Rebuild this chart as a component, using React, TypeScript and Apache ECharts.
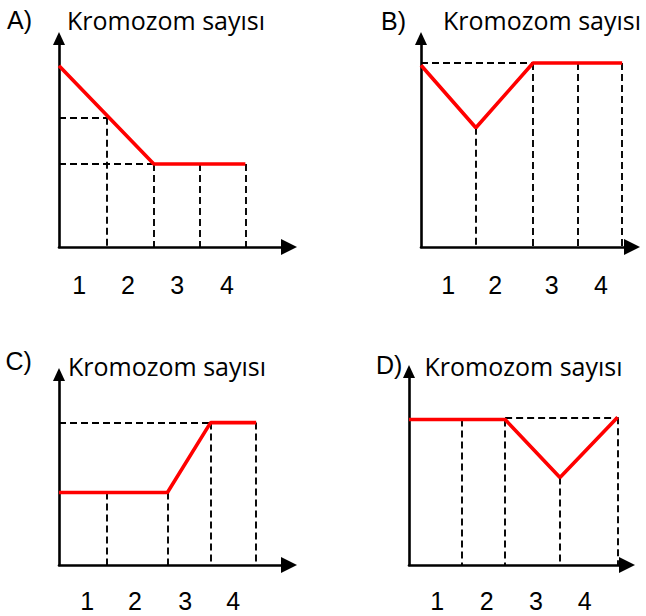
import React, { useEffect, useRef } from "react";
import * as echarts from "echarts";

// ---- data (x in stage units, y in relative chromosome count) ----
const stageLabels = ["1", "2", "3", "4"];
const yAxisName = "Kromozom sayısı";
const panelLetters = ["A)", "B)", "C)", "D)"];

// label positions on the x axis
const labelPosA = [0.43, 1.47, 2.52, 3.58];
const labelPosB = [0.58, 1.58, 2.79, 3.84];
const labelPosC = [0.6, 1.62, 2.69, 3.71];
const labelPosD = [0.6, 1.66, 2.71, 3.75];

// red curves
const redA = [[0, 40], [2.02, 18.3], [3.97, 18.3]];
const redB = [[0, 40.1], [1.17, 26.3], [2.39, 40.6], [4.29, 40.6]];
const redC = [[0, 16.0], [2.31, 16.0], [3.23, 31.4], [4.2, 31.4]];
const redD = [[0, 32.1], [2.05, 32.1], [3.22, 19.3], [4.45, 32.6]];

// dashed guide segments
const dashA = [
  [[0, 28.5], [1.02, 28.5]],
  [[1.02, 28.5], [1.02, 0]],
  [[0, 18.3], [2.02, 18.3]],
  [[2.02, 18.3], [2.02, 0]],
  [[3.0, 18.3], [3.0, 0]],
  [[3.97, 18.3], [3.97, 0]],
];
const dashB = [
  [[0, 40.6], [2.39, 40.6]],
  [[1.17, 26.3], [1.17, 0]],
  [[2.39, 40.6], [2.39, 0]],
  [[3.35, 40.6], [3.35, 0]],
  [[4.29, 40.6], [4.29, 0]],
];
const dashC = [
  [[0, 31.4], [3.23, 31.4]],
  [[1.02, 16.0], [1.02, 0]],
  [[2.31, 16.0], [2.31, 0]],
  [[3.23, 31.4], [3.23, 0]],
  [[4.2, 31.4], [4.2, 0]],
];
const dashD = [
  [[1.13, 32.1], [1.13, 0]],
  [[2.05, 32.1], [2.05, 0]],
  [[2.05, 32.6], [4.45, 32.6]],
  [[3.22, 19.3], [3.22, 0]],
  [[4.45, 32.6], [4.45, 0]],
];

// axis extents (stage units / count units)
const xMaxes = [4.9, 4.5, 4.9, 4.65];
const yMaxes = [46, 46, 42, 42.7];

// ---- layout ----
const panels = [
  { grid: { left: 59, top: 38.5, width: 230, height: 208.5 }, title: [7, 7.2], nameGap: 18.5, namePad: 8, labelMargin: 25.5, labels: labelPosA, red: redA, dash: dashA },
  { grid: { left: 421, top: 38.5, width: 211, height: 208.5 }, title: [381, 8.5], nameGap: 18.5, namePad: 22, labelMargin: 25.5, labels: labelPosB, red: redB, dash: dashB },
  { grid: { left: 59, top: 374.5, width: 230, height: 190.5 }, title: [5.5, 348.5], nameGap: 8.5, namePad: 9, labelMargin: 23, labels: labelPosC, red: redC, dash: dashC },
  { grid: { left: 409, top: 371.5, width: 218, height: 193.5 }, title: [376, 352.5], nameGap: 5.5, namePad: 15.5, labelMargin: 23, labels: labelPosD, red: redD, dash: dashD },
];

export default function App() {
  const ref = useRef<HTMLDivElement>(null);

  useEffect(() => {
    if (!ref.current) return;
    const chart = echarts.init(ref.current, undefined, { renderer: "svg" });

    const axisLineStyle = { color: "#000", width: 2.6 };

    const option: any = {
      animation: false,
      backgroundColor: "#fff",
      title: panels.map((p, i) => ({
        text: panelLetters[i],
        left: p.title[0],
        top: p.title[1],
        padding: 0,
        textStyle: { fontFamily: "Liberation Sans", fontSize: 25, fontWeight: "normal", color: "#000" },
      })),
      grid: panels.map((p) => ({ ...p.grid, containLabel: false })),
      xAxis: panels.map((p, i) => ({
        type: "value",
        gridIndex: i,
        min: 0,
        max: xMaxes[i],
        axisLine: { show: true, onZero: false, lineStyle: axisLineStyle, symbol: ["none", "triangle"], symbolSize: [16, 16] },
        axisTick: { show: false },
        splitLine: { show: false },
        axisLabel: {
          show: true,
          customValues: p.labels,
          formatter: (v: number) => {
            const k = p.labels.findIndex((q) => Math.abs(q - v) < 1e-6);
            return k >= 0 ? stageLabels[k] : "";
          },
          fontFamily: "Liberation Sans",
          fontSize: 25,
          color: "#000",
          margin: p.labelMargin,
        },
      })),
      yAxis: panels.map((p, i) => ({
        type: "value",
        gridIndex: i,
        min: 0,
        max: yMaxes[i],
        name: yAxisName,
        nameLocation: "end",
        nameGap: p.nameGap,
        nameTextStyle: {
          fontFamily: "Open Sans",
          fontSize: 25,
          color: "#000",
          align: "left",
          verticalAlign: "middle",
          padding: [0, 0, 0, p.namePad],
        },
        axisLine: { show: true, onZero: false, lineStyle: axisLineStyle, symbol: ["none", "triangle"], symbolSize: [12, 13] },
        axisTick: { show: false },
        splitLine: { show: false },
        axisLabel: { show: false },
      })),
      series: panels.flatMap((p, i) => [
        {
          type: "lines",
          coordinateSystem: "cartesian2d",
          xAxisIndex: i,
          yAxisIndex: i,
          silent: true,
          z: 1,
          lineStyle: { color: "#000", width: 1.9, type: [7, 4], opacity: 1 },
          data: p.dash.map((c) => ({ coords: c })),
        },
        {
          type: "line",
          xAxisIndex: i,
          yAxisIndex: i,
          symbol: "none",
          silent: true,
          z: 3,
          lineStyle: { color: "#ff0000", width: 3.6 },
          data: p.red,
        },
      ]),
    };

    chart.setOption(option);
    return () => chart.dispose();
  }, []);

  return (
    <div
      ref={ref}
      style={{ position: "absolute", left: 0, top: 0, width: 646, height: 616, background: "#fff" }}
    />
  );
}
